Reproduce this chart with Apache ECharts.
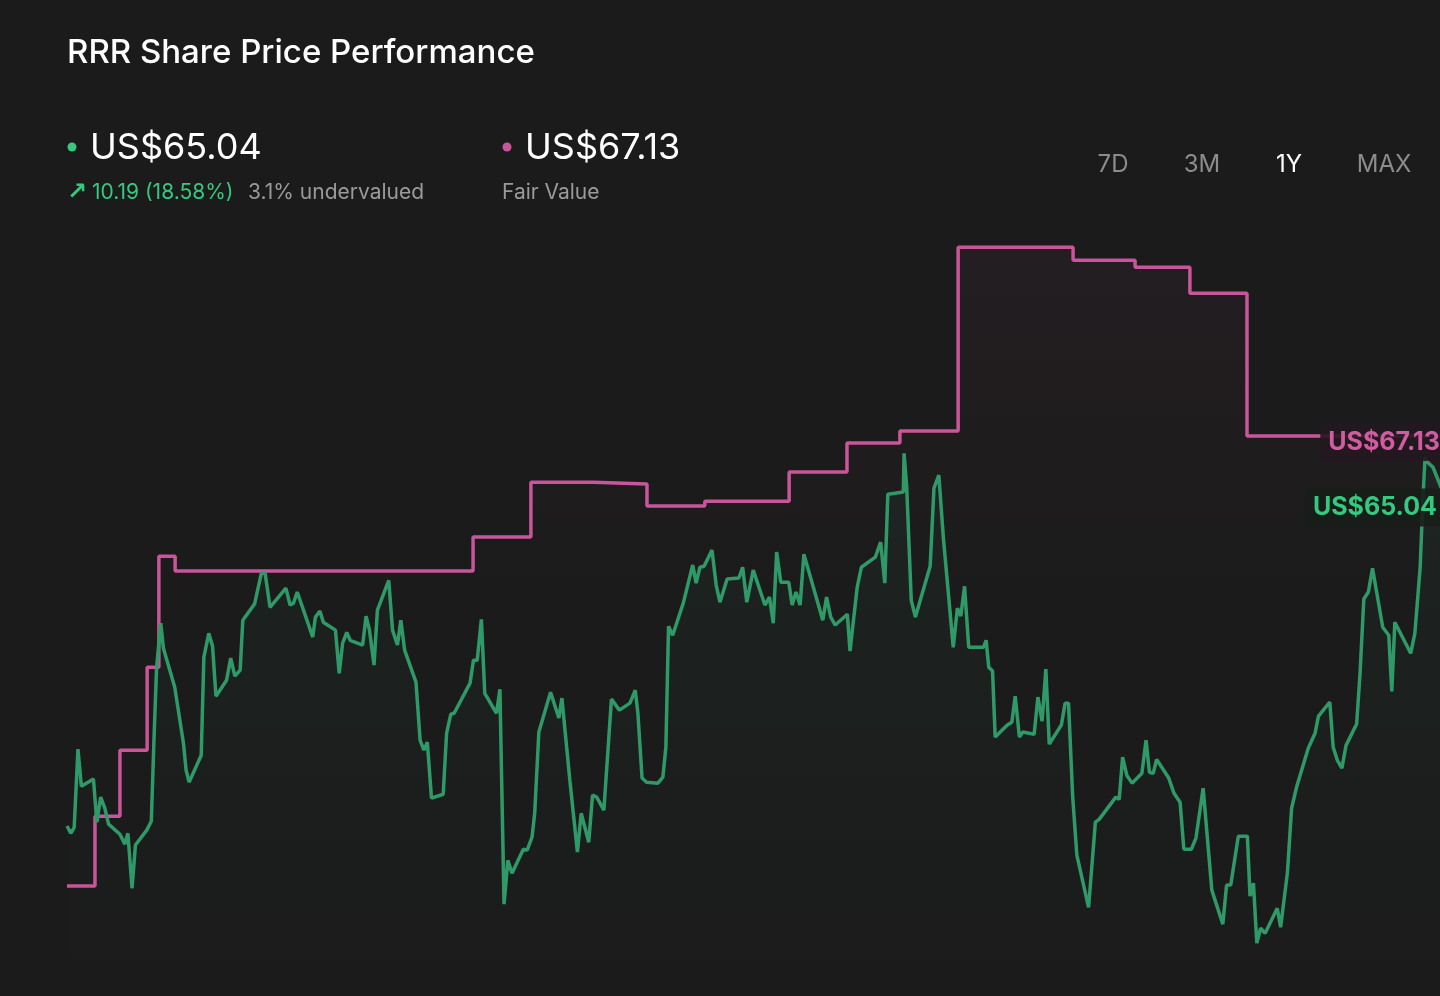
<!DOCTYPE html>
<html>
<head>
<meta charset="utf-8">
<title>RRR Share Price Performance</title>
<script src="https://cdn.jsdelivr.net/npm/echarts@6/dist/echarts.min.js"></script>
<style>
  *{margin:0;padding:0;}
  html,body{width:100%;height:100%;background:#1b1b1b;}
  #main{width:1440px;height:996px;}
</style>
</head>
<body>
<div id="main"></div>
<script>
// share price, day offset within the 1Y window
var priceDays = [0,1.0,1.9,2.9,3.8,7.0,7.9,8.9,10.0,11.0,14.0,15.3,16.1,17.2,18.1,21.1,22.3,23.0,23.7,24.8,
  25.5,28.5,30.8,31.5,32.3,35.5,36.2,37.5,38.5,39.4,42.2,43.3,44.4,45.8,46.5,49.6,51.4,52.4,53.7,57.9,
  59.0,59.9,60.9,65.0,65.7,66.9,67.8,71.0,72.0,72.9,74.0,74.9,78.2,79.1,80.0,81.2,82.1,85.1,86.1,87.4,
  88.3,89.3,92.3,93.4,94.4,95.3,96.4,99.5,100.4,101.5,102.4,106.6,107.5,108.5,109.6,110.5,113.6,114.5,115.6,116.6,
  117.7,120.7,121.7,123.0,123.7,124.8,127.9,130.1,130.9,133.0,135.0,136.0,138.0,139.0,140.1,142.0,144.0,146.1,148.9,150.3,
  151.0,152.1,153.3,156.3,157.6,158.4,159.1,160.2,163.0,165.5,166.4,167.4,168.5,170.6,171.7,172.7,174.6,177.7,178.7,179.8,
  181.5,184.6,185.8,186.8,187.7,188.8,190.9,191.8,192.8,193.9,194.9,199.9,200.9,202.0,203.2,206.4,207.1,209.0,210.1,213.8,
  215.2,216.3,217.1,221.2,221.4,222.1,223.3,224.4,228.3,229.3,230.6,231.8,234.4,235.5,236.4,237.4,238.5,242.4,243.1,243.8,
  244.8,245.5,248.7,249.9,250.8,251.9,252.8,255.8,256.8,257.9,258.9,259.8,263.0,264.0,264.9,266.0,267.1,270.2,272.0,273.0,
  277.4,278.3,279.2,280.3,281.7,284.3,285.4,286.3,287.3,288.2,291.4,292.8,294.4,295.4,297.4,298.6,300.5,302.8,305.7,306.7,
  307.8,309.8,312.2,312.9,313.8,314.7,315.7,316.9,320.1,321.0,322.8,323.9,325.2,328.3,330.1,331.0,334.0,334.9,336.0,337.2,
  338.3,341.1,342.0,343.0,344.2,345.3,348.0,349.6,350.4,351.2,355.4,356.5,357.9,358.7,359.2,360.1,361.3,365.0];
var priceValues = [54.85,54.62,54.81,57.27,56.10,56.33,54.97,55.76,55.41,54.91,54.59,54.28,54.62,52.89,54.25,54.72,55.00,57.55,59.85,61.24,
  60.45,59.22,57.46,56.61,56.23,57.08,60.17,60.92,60.51,58.94,59.44,60.14,59.57,59.76,61.33,61.84,62.81,62.81,61.74,62.34,
  61.81,61.87,62.22,60.80,61.43,61.62,61.27,61.02,59.66,60.61,60.95,60.70,60.55,61.46,61.02,59.92,61.65,62.59,61.02,60.55,
  61.33,60.39,59.38,57.55,57.24,57.49,55.73,55.85,57.77,58.37,58.40,59.35,60.07,60.07,61.36,59.03,58.40,59.16,52.39,53.77,
  53.36,54.12,54.09,54.50,55.25,57.81,59.06,58.25,58.88,56.29,54.03,55.25,54.34,55.82,55.76,55.35,58.85,58.50,58.72,59.13,
  58.40,56.36,56.23,56.20,56.39,57.33,61.14,60.86,61.87,63.07,62.50,63.00,63.03,63.54,62.44,61.90,62.63,62.66,63.00,61.90,
  62.91,61.81,62.06,61.24,63.48,62.53,62.53,61.81,62.22,61.81,63.41,61.33,62.06,61.43,61.18,61.52,60.36,62.37,63.00,63.32,
  63.79,62.50,65.30,65.37,66.59,65.52,61.96,61.43,63.03,65.49,65.90,63.92,60.48,61.71,61.46,62.40,60.48,60.48,60.70,59.85,
  59.73,57.65,58.03,58.12,58.94,57.65,57.81,57.74,58.91,58.15,59.79,57.43,58.03,58.72,58.72,55.76,53.93,52.29,54.97,55.06,
  55.76,55.69,57.02,56.45,56.20,56.51,57.55,56.54,56.51,56.95,56.36,55.88,55.60,54.12,54.12,54.47,56.04,52.83,51.76,52.99,
  52.99,54.53,54.53,52.64,53.05,51.16,51.63,51.47,52.26,51.66,53.39,55.41,56.07,57.30,57.77,58.31,58.75,57.33,56.92,56.67,
  57.39,58.06,59.66,62.00,62.22,62.97,61.11,60.86,59.09,61.27,60.29,60.92,63.00,65.33,66.46,66.28,66.15,65.04];

// fair value estimate, each value holds from its day until the next
var fairDays = [0,7.4,14.0,21.2,24.3,28.6,107.4,122.7,139.1,153.4,168.7,191.0,206.3,220.3,235.7,266.1,282.5,297.0,312.1,365];
var fairValues = [52.96,55.16,57.24,59.85,63.35,62.88,63.95,65.68,65.62,64.93,65.08,66.00,66.91,67.29,73.08,72.67,72.45,71.63,67.13,67.13];

var periods = ['7D','3M','1Y','MAX'];

var GREEN = '#2f9a68';
var PINK = '#c9559a';

function pairs(xs, ys){
  var out = [];
  for (var i = 0; i < xs.length; i++) out.push([xs[i], ys[i]]);
  return out;
}

var priceData = pairs(priceDays, priceValues);
var fairData = pairs(fairDays, fairValues);
var lastPrice = priceData[priceData.length - 1];
var lastFair = fairData[fairData.length - 1];

var font = 'Inter, "Noto Sans", sans-serif';

var periodX = [1113, 1202, 1289, 1384];
var graphics = [
  {type:'text', left:67, top:37, style:{text:'RRR Share Price Performance', fill:'#ffffff', font:'500 33px ' + font}},
  {type:'circle', shape:{cx:72, cy:147, r:4.5}, style:{fill:'#35c97f'}},
  {type:'text', x:90, y:148, style:{text:'US$65.04', fill:'#ffffff', font:'400 36px ' + font, textVerticalAlign:'middle'}},
  {type:'text', x:67, y:193, style:{text:'\u2197', fill:'#35c97f', font:'600 24px "DejaVu Sans", sans-serif', textVerticalAlign:'middle'}},
  {type:'text', x:92, y:193, style:{text:'10.19 (18.58%)', fill:'#35c97f', font:'400 21px ' + font, textVerticalAlign:'middle'}},
  {type:'text', x:248, y:193, style:{text:'3.1% undervalued', fill:'#9a9a9a', font:'400 21px ' + font, textVerticalAlign:'middle'}},
  {type:'circle', shape:{cx:507, cy:147, r:4.5}, style:{fill:PINK}},
  {type:'text', x:525, y:148, style:{text:'US$67.13', fill:'#ffffff', font:'400 36px ' + font, textVerticalAlign:'middle'}},
  {type:'text', x:502, y:193, style:{text:'Fair Value', fill:'#9a9a9a', font:'400 21px ' + font, textVerticalAlign:'middle'}}
];
periods.forEach(function(p, i){
  graphics.push({type:'text', x:periodX[i], y:165, style:{text:p, fill: p === '1Y' ? '#ffffff' : '#8c8c8c',
    font:'400 24px ' + font, textAlign:'center', textVerticalAlign:'middle'}});
});

var myChart = echarts.init(document.getElementById('main'));
var option = {
  backgroundColor:'#1b1b1b',
  animation:false,
  graphic:graphics,
  grid:{left:67, width:1380, top:218, bottom:16, outerBoundsMode:'none', containLabel:false},
  xAxis:{type:'value', min:0, max:365, show:false},
  yAxis:{type:'value', min:50, max:74, show:false},
  series:[
    {
      name:'Fair Value',
      type:'line',
      step:'end',
      data:fairData,
      symbol:'none',
      lineStyle:{color:PINK, width:3.5},
      areaStyle:{color:new echarts.graphic.LinearGradient(0,0,0,1,[
        {offset:0, color:'rgba(201,85,154,0.07)'},
        {offset:0.5, color:'rgba(201,85,154,0.0)'}
      ])},
      z:2,
      markPoint:{
        symbol:'rect', symbolSize:0,
        data:[{coord:lastFair}],
        label:{show:true, position:'left', distance:0, offset:[-5,6], formatter:'US$67.13', color:'#d05d9f',
          fontFamily:font, fontWeight:'bold', fontSize:25, backgroundColor:'rgba(36,24,32,0.9)',
          borderRadius:4, padding:[7,2,6,8]}
      }
    },
    {
      name:'Price',
      type:'line',
      data:priceData,
      symbol:'none',
      lineStyle:{color:GREEN, width:3.5},
      areaStyle:{color:new echarts.graphic.LinearGradient(0,0,0,1,[
        {offset:0, color:'rgba(47,154,104,0.10)'},
        {offset:1, color:'rgba(47,154,104,0.0)'}
      ])},
      z:3,
      markPoint:{
        symbol:'rect', symbolSize:0,
        data:[{coord:lastPrice}],
        label:{show:true, position:'left', distance:0, offset:[-4,5], formatter:'US$65.04', color:'#35c97f',
          fontFamily:font, fontWeight:'bold', fontSize:25, backgroundColor:'rgba(24,30,27,0.9)',
          borderRadius:4, padding:[7,6,6,8]}
      }
    }
  ]
};
myChart.setOption(option);
</script>
</body>
</html>
